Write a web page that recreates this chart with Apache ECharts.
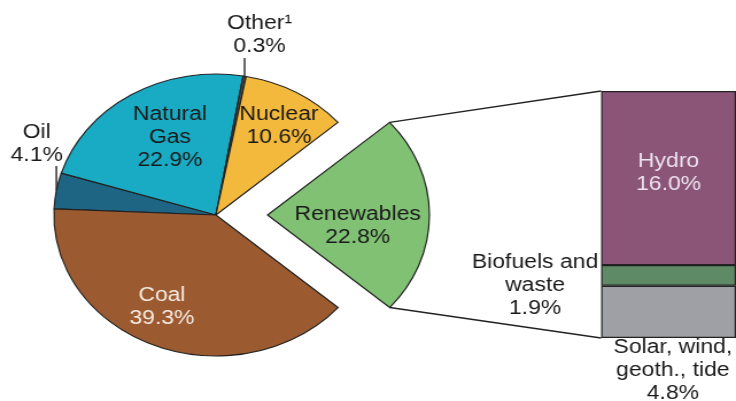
<!DOCTYPE html>
<html>
<head>
<meta charset="utf-8">
<script src="https://cdn.jsdelivr.net/npm/echarts@6/dist/echarts.min.js"></script>
<style>
  html, body { margin: 0; padding: 0; overflow: hidden; background: #fff; }
  /* the source picture is stretched sideways, so the chart is drawn narrow and scaled */
  #main { width: 641px; height: 401px; transform: scaleX(1.1482); transform-origin: 0 0; }
</style>
</head>
<body>
<div id="main"></div>
<script>
  // share of electricity generation, %
  var sources = ['Oil', 'Natural\nGas', 'Other¹', 'Nuclear', 'Renewables', 'Coal'];
  var shares = [4.1, 22.9, 0.3, 10.6, 22.8, 39.3];
  var pieColors = ['#1e6584', '#1aabc4', '#4a4a4a', '#f3b93d', '#80c174', '#9c5a30'];

  // renewables split, bottom to top
  var renewParts = ['Solar, wind,\ngeoth., tide', 'Biofuels and\nwaste', 'Hydro'];
  var renewShares = [4.8, 1.9, 16.0];
  var partColors = ['#9ea0a6', '#5e8b66', '#8b5577'];

  var font = 'Liberation Sans, Arial, sans-serif';
  var pieCenter = [188, 215];
  var pieRadius = 141;
  var explode = 45;
  var barLeft = 523.5;

  // where each pie label sits (chart pixels)
  var pieLabelPos = [[32, 144], [148, 137], [226, 35], [243, 126], [312, 222], [141, 306.5]];

  function pct(v) { return v.toFixed(1) + '%'; }

  var pieData = sources.map(function (name, i) {
      var item = {
          name: name,
          value: shares[i],
          itemStyle: { color: pieColors[i] }
      };
      if (name == 'Oil' || name == 'Other¹') {
          item.label = { position: 'outside' };
          item.labelLine = { show: true };
      } else {
          item.label = { position: 'inside' };
          item.labelLine = { show: false };
      }
      if (name == 'Coal') item.label.color = '#f4ebe3';
      if (name == 'Renewables') {
          item.selected = true;
          // pulled-out slice keeps its own label spot, nudge it
          item.label.padding = [0, 0, 0, 10];
      }
      return item;
  });

  var total = renewShares.reduce(function (a, b) { return a + b; }, 0);

  var barSeries = renewParts.map(function (name, i) {
      var lab = {
          show: true,
          fontFamily: font,
          fontSize: 20,
          lineHeight: 23,
          color: '#1a1a1a',
          align: 'center',
          verticalAlign: 'middle',
          formatter: function (p) { return p.seriesName + '\n' + pct(p.value); }
      };
      if (name == 'Hydro') { lab.position = ['50%', 82]; lab.color = '#ece4f0'; }
      if (i == 1) { lab.position = [-57.5, 20]; }
      if (i == 0) { lab.position = [62.5, 50.5]; lab.verticalAlign = 'top'; }
      return {
          name: name,
          type: 'bar',
          stack: 'renew',
          barWidth: '100%',
          data: [renewShares[i]],
          itemStyle: { color: partColors[i], borderColor: '#222', borderWidth: 1.2 },
          label: lab,
          silent: true
      };
  });

  var option = {
      animation: false,
      grid: { left: barLeft, top: 91, width: 130, height: 247 },
      xAxis: { type: 'category', data: ['Renewables'], show: false },
      yAxis: { type: 'value', min: 0, max: total, show: false },
      series: [{
          type: 'pie',
          center: pieCenter,
          radius: pieRadius,
          startAngle: 177.5,
          clockwise: true,
          selectedMode: 'single',
          selectedOffset: explode,
          avoidLabelOverlap: false,
          silent: true,
          itemStyle: { borderColor: '#222', borderWidth: 1.2 },
          label: {
              fontFamily: font,
              fontSize: 20,
              lineHeight: 23,
              color: '#1a1a1a',
              rich: { sp: { fontSize: 1, lineHeight: 22 } },
              formatter: function (p) {
                  var s = p.name + '\n' + pct(p.value);
                  // spacer line pushes this label down a little
                  return p.name == 'Renewables' ? '{sp| }\n' + s : s;
              }
          },
          labelLine: { length: 20, length2: 0, lineStyle: { color: '#333', width: 1.5 } },
          labelLayout: function (params) {
              if (sources[params.dataIndex] == 'Renewables') return {};
              var p = pieLabelPos[params.dataIndex];
              var out = { x: p[0], y: p[1], align: 'center', verticalAlign: 'middle' };
              var pts = params.labelLinePoints;
              if (pts) {
                  var top = sources[params.dataIndex] == 'Oil' ? 166 : 58;
                  out.labelLinePoints = [pts[0], [pts[0][0], top], [pts[0][0], top]];
              }
              return out;
          },
          data: pieData
      }].concat(barSeries)
  };

  var chart = echarts.init(document.getElementById('main'));
  chart.setOption(option);

  // connector lines from the pulled-out slice to the bar
  var data = chart.getModel().getSeriesByIndex(0).getData();
  var lay = data.getItemLayout(sources.indexOf('Renewables'));
  var mid = (lay.startAngle + lay.endAngle) / 2;
  var ox = lay.cx + explode * Math.cos(mid);
  var oy = lay.cy + explode * Math.sin(mid);
  var a1 = Math.min(lay.startAngle, lay.endAngle);
  var a2 = Math.max(lay.startAngle, lay.endAngle);
  var yTop = chart.convertToPixel({ yAxisIndex: 0 }, total);
  var yBot = chart.convertToPixel({ yAxisIndex: 0 }, 0);
  chart.setOption({
      graphic: [{
          type: 'line',
          shape: { x1: ox + lay.r * Math.cos(a1), y1: oy + lay.r * Math.sin(a1), x2: barLeft, y2: yTop },
          style: { stroke: '#222', lineWidth: 1.5 }
      }, {
          type: 'line',
          shape: { x1: ox + lay.r * Math.cos(a2), y1: oy + lay.r * Math.sin(a2), x2: barLeft, y2: yBot },
          style: { stroke: '#222', lineWidth: 1.5 }
      }]
  });
</script>
</body>
</html>
